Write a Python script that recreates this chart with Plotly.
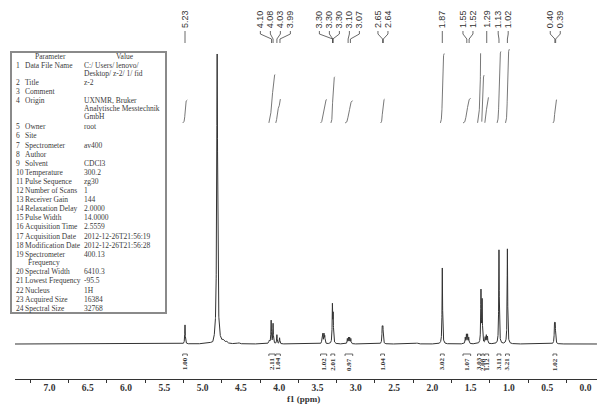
import numpy as np
import plotly.graph_objects as go

# ---------------- data ----------------
peak_ppm = [5.230, 4.870, 4.810, 4.730, 4.690, 4.530, 4.130, 4.105, 4.080, 4.030, 3.995,
            3.440, 3.430, 3.415, 3.405, 3.305, 3.295, 3.110, 3.095, 3.080, 3.065,
            2.655, 2.645, 2.200, 1.870, 1.570, 1.555, 1.540, 1.525, 1.365, 1.350,
            1.310, 1.295, 1.280, 1.130, 1.020, 0.405, 0.395]
peak_height = [19, -2, 290, 2.5, 2, 1.2, 3, 23, 20, 9, 6,
               7, 9, 9, 7, 37, 27, 5, 6, 6, 5,
               16, 16, 1, 76, 6, 9, 9, 6, 52, 42,
               6, 8, 7, 94, 95, 19, 19]
peak_width = [0.004, 0.012, 0.007, 0.012, 0.012, 0.012, 0.008, 0.004, 0.004, 0.004, 0.004,
              0.004, 0.004, 0.004, 0.004, 0.004, 0.004, 0.004, 0.004, 0.004, 0.004,
              0.004, 0.004, 0.015, 0.004, 0.004, 0.004, 0.004, 0.004, 0.004, 0.004,
              0.004, 0.004, 0.004, 0.004, 0.004, 0.004, 0.004]

label_ppm = [5.23, 4.10, 4.08, 4.03, 3.99, 3.30, 3.30, 3.30, 3.10, 3.07, 2.65, 2.64,
             1.87, 1.55, 1.52, 1.29, 1.13, 1.02, 0.40, 0.39]

integ_center = [5.23, 4.095, 4.015, 3.42, 3.30, 3.09, 2.65, 1.87, 1.55, 1.39, 1.34, 1.29, 1.13, 1.02, 0.40]
integ_half = [0.03, 0.04, 0.03, 0.04, 0.025, 0.05, 0.025, 0.025, 0.05, 0.02, 0.015, 0.025, 0.025, 0.025, 0.025]
integ_value = [1.00, 2.11, 1.04, 1.02, 2.01, 0.97, 1.04, 3.02, 1.07, 3.03, 2.08, 1.12, 3.11, 3.21, 1.02]

x_ticks = [7.0, 6.5, 6.0, 5.5, 5.0, 4.5, 4.0, 3.5, 3.0, 2.5, 2.0, 1.5, 1.0, 0.5, 0.0]

param_names = [["Data File Name"], ["Title"], ["Comment"], ["Origin"], ["Owner"], ["Site"],
               ["Spectrometer"], ["Author"], ["Solvent"], ["Temperature"], ["Pulse Sequence"],
               ["Number of Scans"], ["Receiver Gain"], ["Relaxation Delay"], ["Pulse Width"],
               ["Acquisition Time"], ["Acquisition Date"], ["Modification Date"],
               ["Spectrometer", "Frequency"], ["Spectral Width"], ["Lowest Frequency"],
               ["Nucleus"], ["Acquired Size"], ["Spectral Size"]]
param_values = [["C:/ Users/ lenovo/", "Desktop/ z-2/ 1/ fid"], ["z-2"], [""],
                ["UXNMR, Bruker", "Analytische Messtechnik", "GmbH"], ["root"], [""],
                ["av400"], [""], ["CDCl3"], ["300.2"], ["zg30"], ["1"], ["144"], ["2.0000"],
                ["14.0000"], ["2.5559"], ["2012-12-26T21:56:19"], ["2012-12-26T21:56:28"],
                ["400.13"], ["6410.3"], ["-95.5"], ["1H"], ["16384"], ["32768"]]

# ---------------- layout helpers ----------------
W, H = 606, 408
X_RANGE = [7.45, -0.15]
Y_RANGE = [-35, 344]
def fx(px):
    return px / W
def fy(py):
    return 1 - py / H

# ---------------- spectrum ----------------
x = np.arange(X_RANGE[0], X_RANGE[1], -0.0005)
y = np.zeros_like(x)
for c, h, w in zip(peak_ppm, peak_height, peak_width):
    y += h / (1 + ((x - c) / w) ** 2)

fig = go.Figure()
fig.add_trace(go.Scatter(x=np.round(x, 4), y=np.round(y, 2), mode="lines",
                         line=dict(color="#333333", width=1), hoverinfo="skip"))

# ---------------- integral curves and labels ----------------
INT_BASE = 221
INT_SCALE = 23
ix, iy, bx, by = [], [], [], []
for c, hw, v in zip(integ_center, integ_half, integ_value):
    m = (x <= c + hw) & (x >= c - hw)
    seg = y[m]
    cs = np.cumsum(seg)
    cs = cs / cs[-1] if cs[-1] != 0 else cs
    ix += list(x[m]) + [None]
    iy += list(INT_BASE + cs * v * INT_SCALE) + [None]
    bx += [c + hw, c + hw, c - hw, c - hw, None]
    by += [-12, -10, -10, -12, None]
    fig.add_annotation(x=c, y=-20, text="%.2f" % v, textangle=-90, showarrow=False,
                       xanchor="center", yanchor="middle",
                       font=dict(family="Liberation Serif", size=7, color="#333333", weight="bold"))
fig.add_trace(go.Scatter(x=ix, y=iy, mode="lines", line=dict(color="#555555", width=0.8),
                         hoverinfo="skip"))
fig.add_trace(go.Scatter(x=bx, y=by, mode="lines", line=dict(color="#444444", width=0.8),
                         hoverinfo="skip"))

# ---------------- peak labels ----------------
gap = 10 * (X_RANGE[0] - X_RANGE[1]) / 582.0
def spread(vals, g):
    groups = [[v] for v in vals]
    def pos(gr):
        c = sum(gr) / len(gr)
        n = len(gr)
        return [c + g * ((n - 1) / 2 - k) for k in range(n)]
    merged = True
    while merged:
        merged = False
        for i in range(len(groups) - 1):
            a, b = pos(groups[i]), pos(groups[i + 1])
            if a[-1] - b[0] < g - 1e-9:
                groups[i] = groups[i] + groups[i + 1]
                del groups[i + 1]
                merged = True
                break
    out = []
    for gr in groups:
        out += pos(gr)
    return out

lab_pos = spread(label_ppm, gap)
cx, cy = [], []
for p, lp in zip(label_ppm, lab_pos):
    cx += [lp, lp, p, p, None]
    cy += [313, 310, 305, 301, None]
    fig.add_annotation(x=lp, y=314, text="%.2f" % p, textangle=-90, showarrow=False,
                       yanchor="bottom", xanchor="center",
                       font=dict(family="Liberation Sans", size=9, color="#333333"))
fig.add_trace(go.Scatter(x=cx, y=cy, mode="lines", line=dict(color="#444444", width=0.8),
                         hoverinfo="skip"))

# ---------------- parameter table ----------------
tfont = dict(family="Liberation Serif", size=7.5, color="#3a3a3a")
fig.add_shape(type="rect", xref="paper", yref="paper", x0=fx(11), x1=fx(166), y0=fy(52), y1=fy(313),
              line=dict(color="#8a8a8a", width=2), fillcolor="white", layer="below")
fig.add_annotation(xref="paper", yref="paper", x=fx(50), y=fy(57), text="Parameter",
                   showarrow=False, xanchor="center", yanchor="middle", font=tfont)
fig.add_annotation(xref="paper", yref="paper", x=fx(125), y=fy(57), text="Value",
                   showarrow=False, xanchor="center", yanchor="middle", font=tfont)
yy = 65.0
for i, (names, vals) in enumerate(zip(param_names, param_values)):
    n = max(len(names), len(vals))
    fig.add_annotation(xref="paper", yref="paper", x=fx(14), y=fy(yy), text=str(i + 1),
                       showarrow=False, xanchor="left", yanchor="middle", font=tfont)
    for j, t in enumerate(names):
        fig.add_annotation(xref="paper", yref="paper", x=fx(23 if j == 0 else 26), y=fy(yy + 8 * j),
                           text=t, showarrow=False, xanchor="left", yanchor="middle", font=tfont)
    for j, t in enumerate(vals):
        if t:
            fig.add_annotation(xref="paper", yref="paper", x=fx(82), y=fy(yy + 8 * j),
                               text=t, showarrow=False, xanchor="left", yanchor="middle", font=tfont)
    yy += 9.1 + 8.5 * (n - 1)

# ---------------- axis ----------------
minor_vals = [t + 0.25 for t in x_ticks]
fig.add_annotation(xref="paper", yref="paper", x=fx(303), y=fy(399), text="f1 (ppm)",
                   showarrow=False, xanchor="center", yanchor="middle",
                   font=dict(family="Liberation Serif", size=9, color="#333333", weight="bold"))

fig.update_layout(
    width=W, height=H, margin=dict(l=0, r=0, t=0, b=0),
    paper_bgcolor="white", plot_bgcolor="white", showlegend=False,
    xaxis=dict(domain=[fx(15), fx(597)], range=X_RANGE, showgrid=False, zeroline=False,
               showline=True, linecolor="#333333", linewidth=1,
               tickvals=x_ticks, ticktext=["%.1f" % t for t in x_ticks],
               ticks="outside", ticklen=0, tickcolor="#333333",
               tickfont=dict(family="Liberation Serif", size=9.5, color="#333333", weight="bold"),
               minor=dict(tickvals=minor_vals, ticks="outside", ticklen=3, tickcolor="#333333"),
               fixedrange=True),
    yaxis=dict(domain=[29 / H, 1], range=Y_RANGE, visible=False, fixedrange=True),
)

fig.write_html("out.html", config={"displayModeBar": False},
               post_script="document.body.style.margin='0';document.body.style.overflow='hidden';")
